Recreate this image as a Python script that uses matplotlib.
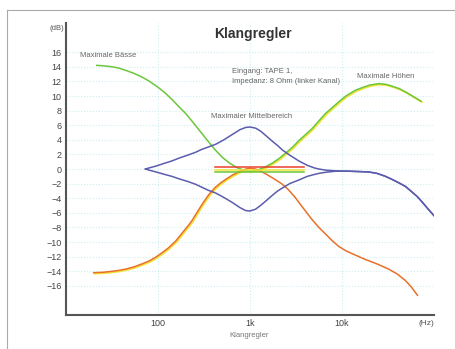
import matplotlib
matplotlib.use("Agg")
import matplotlib.pyplot as plt
import matplotlib.transforms as mtransforms
from matplotlib.lines import Line2D

## Data (frequency in Hz, level in dB)

# Green: maximale Baesse / maximale Hoehen
green_f = [21.6, 25, 30, 37, 45, 55, 67, 80, 100, 120, 140, 170, 200, 240,
           290, 350, 420, 500, 600, 720, 850, 1000, 1200, 1450, 1740, 2100,
           2500, 2900, 3400, 4000, 4700, 5600, 6600, 7800, 9200, 11000,
           14000, 17000, 20000, 25000, 30000, 36000, 42000, 50000, 60000,
           72000]
green_db = [14.2, 14.15, 14.05, 13.85, 13.5, 13.1, 12.6, 12.05, 11.2, 10.4,
            9.6, 8.5, 7.6, 6.4, 5.1, 3.8, 2.6, 1.6, 0.8, 0.2, -0.15, -0.3,
            -0.15, 0.25, 0.8, 1.5, 2.3, 3.0, 3.9, 4.7, 5.5, 6.6, 7.6, 8.4,
            9.2, 10.0, 10.8, 11.2, 11.5, 11.7, 11.6, 11.3, 11.0, 10.5, 9.9,
            9.3]

# Orange: minimale Baesse / minimale Hoehen
orange_f = [20, 25, 30, 37, 45, 55, 67, 80, 94, 110, 130, 155, 185, 215, 236,
            270, 310, 357, 420, 480, 546, 650, 780, 900, 1000, 1150, 1300,
            1500, 1800, 2200, 2600, 3100, 3600, 4000, 4700, 5600, 6600, 7800,
            9200, 11000, 14000, 18000, 24000, 32000, 40000, 49000, 57000,
            66000]
orange_db = [-14.2, -14.15, -14.05, -13.9, -13.7, -13.4, -13.0, -12.6, -12.1,
             -11.5, -10.8, -9.9, -8.7, -7.7, -7.0, -5.8, -4.6, -3.5, -2.5,
             -1.9, -1.4, -0.8, -0.3, 0.0, 0.1, 0.0, -0.3, -0.7, -1.3, -2.0,
             -2.8, -3.9, -5.0, -5.75, -6.9, -8.0, -8.9, -9.8, -10.6, -11.2,
             -11.8, -12.4, -13.0, -13.7, -14.4, -15.3, -16.2, -17.3]

# Yellow: runs alongside orange in the bass and green in the highs
yellow_f = [20, 25, 30, 37, 45, 55, 67, 80, 94, 110, 130, 155, 185, 215, 236,
            270, 310, 357, 420, 480, 546, 650, 780, 900, 1000, 1200, 1450,
            1740, 2100, 2500, 2900, 3400, 4000, 4700, 5600, 6600, 7800, 9200,
            11000, 14000, 17000, 20000, 25000, 30000, 36000, 42000, 50000,
            60000, 72000]
yellow_db = [-14.2, -14.15, -14.05, -13.9, -13.7, -13.4, -13.0, -12.6, -12.1,
             -11.5, -10.8, -9.9, -8.7, -7.7, -7.0, -5.8, -4.6, -3.5, -2.5,
             -1.9, -1.4, -0.8, -0.3, -0.1, -0.2, -0.15, 0.25, 0.8, 1.5, 2.3,
             3.0, 3.9, 4.7, 5.5, 6.6, 7.6, 8.4, 9.2, 10.0, 10.8, 11.2, 11.5,
             11.7, 11.6, 11.3, 11.0, 10.5, 9.9, 9.3]

# Blue: Mittelbereich max / min
blue_up_f = [73, 80, 95, 115, 141, 170, 210, 257, 300, 350, 425, 520, 645,
             780, 900, 1000, 1150, 1300, 1480, 1750, 2000, 2250, 2700, 3400,
             4200, 5000, 5600, 6600, 8500, 12000, 19500, 24000, 29600, 36000,
             43000, 49000, 57000, 66000, 74000, 85000, 100000]
blue_up_db = [0.0, 0.15, 0.4, 0.75, 1.1, 1.5, 1.9, 2.3, 2.7, 3.0, 3.4, 4.0,
              4.75, 5.4, 5.7, 5.75, 5.6, 5.2, 4.6, 3.8, 3.2, 2.6, 1.9, 1.1,
              0.5, 0.15, 0.0, -0.15, -0.25, -0.3, -0.4, -0.6, -1.0, -1.5,
              -2.0, -2.4, -3.1, -3.8, -4.5, -5.4, -6.4]
blue_lo_f = [73, 80, 95, 115, 141, 170, 210, 257, 300, 350, 425, 520, 645,
             780, 900, 1000, 1150, 1300, 1480, 1750, 2000, 2250, 2700, 3400,
             4200, 5000, 5600, 6600, 8500, 12000, 19500, 24000, 29600, 36000,
             43000, 49000, 57000, 66000, 74000, 85000, 100000]
blue_lo_db = [0.0, -0.15, -0.4, -0.7, -1.0, -1.35, -1.7, -2.1, -2.5, -2.9,
              -3.3, -3.9, -4.6, -5.3, -5.7, -5.75, -5.5, -5.0, -4.4, -3.6,
              -3.0, -2.6, -2.0, -1.5, -1.0, -0.75, -0.6, -0.45, -0.3, -0.3,
              -0.4, -0.6, -1.0, -1.5, -2.0, -2.4, -3.1, -3.8, -4.5, -5.4,
              -6.4]

# Flat reference lines around 1 kHz
flat_f = [420, 3850]
flat_red = 0.27
flat_yellow = -0.1
flat_green = -0.45

y_ticks = list(range(-16, 17, 2))
x_ticks = [100, 1000, 10000]
x_labels = ["100", "1k", "10k"]

GREEN = "#6cc63c"
ORANGE = "#e8702a"
YELLOW = "#f2e33a"
BLUE = "#5c5cae"
RED = "#e8402e"

####################################################################

plt.rcParams['font.family'] = ['Liberation Sans', 'DejaVu Sans']

fig = plt.figure(figsize=(4.55, 3.49), dpi=100)
ax = fig.add_axes([0.145, 0.0974, 0.809, 0.8366])

ax.set_xscale("log")
ax.set_xlim(10, 100000)
ax.set_ylim(-20, 20)

# faint dotted grid
ax.grid(True, which="both", color="#cfeef3", linestyle=":", linewidth=0.8)
ax.set_axisbelow(True)

# yellow drawn slightly offset so it peeks out next to orange/green
shift = mtransforms.offset_copy(ax.transData, fig=fig, x=0.7, y=-0.7, units="points")
ax.plot(yellow_f, yellow_db, color=YELLOW, lw=1.3, transform=shift, zorder=2)

ax.plot(green_f, green_db, color=GREEN, lw=1.1, zorder=3)
ax.plot(orange_f, orange_db, color=ORANGE, lw=1.1, zorder=3)
ax.plot(blue_up_f, blue_up_db, color=BLUE, lw=1.1, zorder=3)
ax.plot(blue_lo_f, blue_lo_db, color=BLUE, lw=1.1, zorder=3)

ax.plot(flat_f, [flat_red, flat_red], color=RED, lw=1.1, zorder=4)
ax.plot(flat_f, [flat_yellow, flat_yellow], color=YELLOW, lw=1.1, zorder=4)
ax.plot(flat_f, [flat_green, flat_green], color=GREEN, lw=1.1, zorder=4)

# axes look
for side in ["top", "right"]:
    ax.spines[side].set_visible(False)
for side in ["left", "bottom"]:
    ax.spines[side].set_color("#555555")
    ax.spines[side].set_linewidth(1.5)

ax.set_yticks(y_ticks)
ax.set_yticklabels([str(v).replace("-", "\u2212") for v in y_ticks])
ax.set_xticks(x_ticks)
ax.set_xticklabels(x_labels)
ax.minorticks_off()
ax.tick_params(axis="both", length=0, labelsize=6.5, labelcolor="#444444")
ax.tick_params(axis="y", pad=3)
ax.tick_params(axis="x", pad=3)

# labels
fig.text(0.557, 0.903, "Klangregler", fontsize=10, fontweight="bold",
         color="#333333", ha="center", va="center")
fig.text(0.145 - 0.004, 0.917, "(dB)", fontsize=5.5, color="#555555",
         ha="right", va="center")
fig.text(0.936, 0.072, "(Hz)", fontsize=6, color="#555555",
         ha="center", va="center")
fig.text(0.505, 0.040, "Klangregler", fontsize=5.5, color="#777777",
         ha="left", va="center")

note = dict(fontsize=5.5, color="#666666", va="center")
fig.text(0.176, 0.840, "Maximale Bässe", ha="left", **note)
fig.text(0.552, 0.665, "Maximaler Mittelbereich", ha="center", **note)
fig.text(0.510, 0.794, "Eingang: TAPE 1,", ha="left", **note)
fig.text(0.510, 0.766, "Impedanz: 8 Ohm (linker Kanal)", ha="left", **note)
fig.text(0.785, 0.782, "Maximale Höhen", ha="left", **note)

# thin frame lines at left and top of the page
fig.add_artist(Line2D([0.016, 0.016], [0.0, 0.972], color="#aaaaaa", lw=0.8))
fig.add_artist(Line2D([0.016, 1.0], [0.972, 0.972], color="#aaaaaa", lw=0.8))

fig.savefig("out.png", dpi=100)
